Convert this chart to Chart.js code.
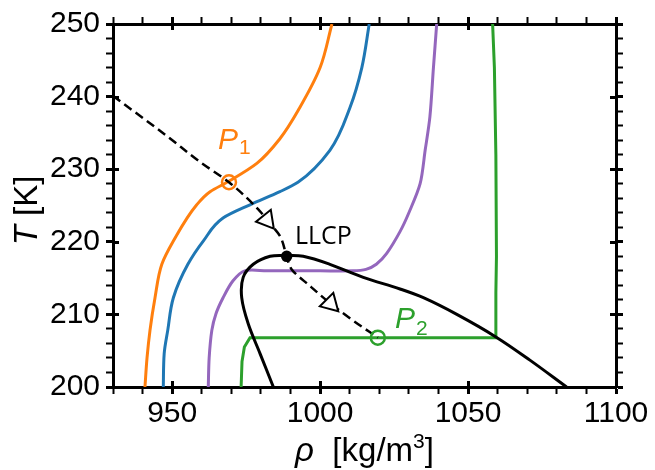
<!DOCTYPE html>
<html>
<head>
<meta charset="utf-8">
<script src="https://cdn.jsdelivr.net/npm/chart.js@4/dist/chart.umd.min.js"></script>
<style>
  html, body { margin: 0; padding: 0; background: #fff; }
  canvas { display: block; }
</style>
</head>
<body>
<canvas id="phase" width="655" height="470"></canvas>
<script>
(function(){
    // axis ranges and labelled ticks
    const rhoMin = 930, rhoMax = 1100;
    const tMin = 200, tMax = 250;
    const rhoLabels = [950, 1000, 1050, 1100];
    const tLabels = [200, 210, 220, 230, 240, 250];

    // isochores, rho in kg/m3, T in K
    const orangeRho = [940.8, 941.5, 942.5, 944.2, 946.5, 950.4, 958.3, 962.8, 969.0, 978.6, 986.4, 993.0, 1000.0, 1004.0];
    const orangeT   = [200.0, 204.0, 207.8, 212.3, 216.9, 220.1, 225.1, 226.9, 228.3, 230.8, 234.2, 238.4, 244.0, 250.0];

    const blueRho = [947.0, 947.3, 948.5, 950.4, 955.3, 960.5, 967.3, 976.3, 986.4, 992.5, 1003.3, 1010.1, 1014.1, 1016.6];
    const blueT   = [200.0, 204.6, 207.8, 212.3, 216.9, 220.1, 223.3, 225.1, 226.9, 228.2, 232.6, 238.5, 244.0, 250.0];

    const purpleRho = [962.2, 962.5, 963.4, 964.8, 967.2, 970.5, 974.5, 982.0, 1000.0, 1011.0, 1015.5, 1019.0, 1022.5, 1027.0, 1030.0, 1033.8, 1035.5, 1037.1, 1038.3, 1039.4];
    const purpleT   = [200.0, 204.0, 207.8, 210.1, 212.3, 214.6, 216.0, 216.0, 216.0, 216.0, 216.2, 216.9, 218.4, 221.4, 224.0, 228.0, 232.6, 237.2, 244.0, 250.0];

    const greenRho = [973.3, 973.6, 974.4, 976.3, 1059.4, 1059.4, 1059.6, 1059.4, 1058.9, 1058.3];
    const greenT   = [200.0, 203.5, 205.5, 206.8, 206.8, 213.0, 218.0, 232.0, 244.0, 250.0];

    // liquid-liquid coexistence line
    const binodalRho = [984.2, 979.7, 975.7, 973.5, 974.0, 977.4, 983.1, 988.7, 994.3, 1003.3, 1014.6, 1027.0, 1034.9, 1046.2, 1059.4, 1070.9, 1083.3];
    const binodalT   = [200.0, 204.6, 208.7, 212.3, 215.1, 216.9, 218.0, 218.1, 218.0, 216.9, 215.1, 213.5, 212.3, 210.0, 206.9, 203.7, 200.0];

    // dashed path P1 -> LLCP -> P2
    const pathRho = [930.0, 948.1, 959.4, 969.2, 979.7, 982.0, 986.4, 988.7, 990.4, 996.6, 1003.5, 1011.0, 1019.5];
    const pathT   = [240.1, 234.6, 231.0, 228.2, 224.2, 223.0, 220.8, 218.0, 216.2, 213.9, 211.5, 209.2, 206.8];

    const arrowRho = [982.0, 1003.5];
    const arrowT   = [223.0, 211.5];
    const arrowRot = [141, 135];

    const p1 = [969.2, 228.2];
    const p2 = [1019.5, 206.8];
    const llcp = [988.7, 218.0];

    const orange = '#ff7f0e', blue = '#1f77b4', purple = '#9467bd', green = '#2ca02c';
    const font = '"Liberation Sans", Arial, sans-serif';

    function pts(xs, ys) {
        return xs.map(function (x, i) { return { x: x, y: ys[i] }; });
    }

    function curve(xs, ys, color, order, tension) {
        return {
            data: pts(xs, ys),
            showLine: true,
            borderColor: color,
            borderWidth: 3,
            pointRadius: 0,
            order: order,
            tension: tension,
        };
    }

    // smooth along T: these curves are single valued in T
    function curveT(xs, ys, color, order) {
        const d = curve(xs, ys, color, order, 0);
        d.indexAxis = 'y';
        d.cubicInterpolationMode = 'monotone';
        return d;
    }

    function marker(p, color, r, fill, order) {
        return {
            data: pts([p[0]], [p[1]]),
            showLine: false,
            pointRadius: r,
            pointBorderWidth: 2.5,
            pointBorderColor: color,
            pointBackgroundColor: fill,
            order: order,
        };
    }

    const path = curveT(pathRho, pathT, '#000', 1);
    path.borderWidth = 2.5;
    path.borderDash = [9, 5];

    const datasets = [
        marker(p1, orange, 7, 'rgba(0,0,0,0)', 0),
        marker(p2, green, 7, 'rgba(0,0,0,0)', 0),
        marker(llcp, '#000', 4.5, '#000', 0),
        {
            data: pts(arrowRho, arrowT),
            showLine: false,
            pointStyle: 'triangle',
            pointRadius: 11,
            pointRotation: function (ctx) { return arrowRot[ctx.dataIndex]; },
            pointBorderColor: '#000',
            pointBorderWidth: 2,
            pointBackgroundColor: '#fff',
            order: 0,
        },
        path,
        curve(binodalRho, binodalT, '#000', 2, 0.35),
        curve(greenRho, greenT, green, 4, 0),
        curve(purpleRho, purpleT, purple, 4, 0.3),
        curveT(blueRho, blueT, blue, 4),
        curveT(orangeRho, orangeT, orange, 4),
    ];

    function isMajorX(v) { return rhoLabels.indexOf(v) >= 0; }
    function isMajorY(v) { return tLabels.indexOf(v) >= 0; }

    function axis(pos, min, max, step, major, size, labels) {
        const horiz = pos === 'top' || pos === 'bottom';
        return {
            type: 'linear',
            position: pos,
            min: min,
            max: max,
            afterFit: function (s) {
                if (horiz) s.height = size; else s.width = size;
            },
            border: { display: true, color: '#000', width: 3 },
            grid: {
                drawOnChartArea: false,
                drawTicks: true,
                tickLength: 7,
                tickColor: '#000',
                tickWidth: function (ctx) { return ctx.tick && major(ctx.tick.value) ? 3 : 2; },
            },
            ticks: {
                display: labels,
                stepSize: step,
                autoSkip: false,
                maxRotation: 0,
                padding: horiz ? 2 : 6,
                color: '#000',
                font: { family: font, size: 30 },
                callback: function (v) { return major(v) ? String(v) : ''; },
            },
        };
    }

    // inward half of the major ticks, axis titles and point labels
    const extras = {
        id: 'extras',
        afterDatasetsDraw: function (chart) {
            const ctx = chart.ctx;
            const sx = chart.scales.x, sy = chart.scales.y;
            ctx.save();
            ctx.textBaseline = 'alphabetic';
            ctx.textAlign = 'left';

            function sub(x0, y0, main, index, color, big, small, drop) {
                ctx.fillStyle = color;
                ctx.font = 'italic ' + big + 'px ' + font;
                ctx.fillText(main, x0, y0);
                const w = ctx.measureText(main).width;
                ctx.font = small + 'px ' + font;
                ctx.fillText(index, x0 + w + 1, y0 + drop);
            }
            sub(sx.getPixelForValue(965.5), sy.getPixelForValue(232.8), 'P', '1', orange, 30, 21, 5);
            sub(sx.getPixelForValue(1025.3), sy.getPixelForValue(208.1), 'P', '2', green, 30, 21, 7);

            ctx.fillStyle = '#000';
            ctx.font = '25px "Open Sans", ' + font;
            ctx.fillText('LLCP', sx.getPixelForValue(991.5), sy.getPixelForValue(219.7));
            ctx.restore();
        },
        afterDraw: function (chart) {
            const ctx = chart.ctx, a = chart.chartArea;
            const sx = chart.scales.x, sy = chart.scales.y;
            ctx.save();
            ctx.strokeStyle = '#000';
            ctx.lineWidth = 3;
            ctx.beginPath();
            rhoLabels.forEach(function (v) {
                const px = Math.round(sx.getPixelForValue(v)) + 0.5;
                ctx.moveTo(px, a.bottom); ctx.lineTo(px, a.bottom - 6);
                ctx.moveTo(px, a.top); ctx.lineTo(px, a.top + 6);
            });
            tLabels.forEach(function (v) {
                const py = Math.round(sy.getPixelForValue(v)) + 0.5;
                ctx.moveTo(a.left, py); ctx.lineTo(a.left + 6, py);
                ctx.moveTo(a.right, py); ctx.lineTo(a.right - 6, py);
            });
            ctx.stroke();

            // x title: rho [kg/m^3]
            ctx.fillStyle = '#000';
            ctx.textBaseline = 'alphabetic';
            ctx.textAlign = 'left';
            const fItal = 'italic 33px ' + font, fNorm = '33px ' + font, fSup = '21px ' + font;
            ctx.font = fItal; const wr = ctx.measureText('\u03c1').width;
            ctx.font = fNorm; const w1 = ctx.measureText('  [kg/m').width;
            const w3 = ctx.measureText(']').width;
            ctx.font = fSup; const w2 = ctx.measureText('3').width;
            let x0 = (a.left + a.right) / 2 - (wr + w1 + w2 + w3) / 2;
            const base = 461;
            ctx.font = fItal; ctx.fillText('\u03c1', x0, base); x0 += wr;
            ctx.font = fNorm; ctx.fillText('  [kg/m', x0, base); x0 += w1;
            ctx.font = fSup; ctx.fillText('3', x0, base - 13); x0 += w2;
            ctx.font = fNorm; ctx.fillText(']', x0, base);

            // y title: T [K]
            ctx.translate(28, (a.top + a.bottom) / 2 + 5);
            ctx.rotate(-Math.PI / 2);
            ctx.textBaseline = 'middle';
            ctx.font = fItal; const wt = ctx.measureText('T').width;
            ctx.font = fNorm; const wk = ctx.measureText(' [K]').width;
            const y0 = -(wt + wk) / 2;
            ctx.font = fItal; ctx.fillText('T', y0, 0);
            ctx.font = fNorm; ctx.fillText(' [K]', y0 + wt, 0);
            ctx.restore();
        },
    };

    new Chart(document.getElementById('phase'), {
        type: 'scatter',
        data: { datasets: datasets },
        options: {
            responsive: false,
            animation: false,
            layout: { padding: 0 },
            plugins: {
                legend: { display: false },
                tooltip: { enabled: false },
            },
            scales: {
                x: axis('bottom', rhoMin, rhoMax, 10, isMajorX, 83, true),
                x2: axis('top', rhoMin, rhoMax, 10, isMajorX, 21, false),
                y: axis('left', tMin, tMax, 2, isMajorY, 113, true),
                y2: axis('right', tMin, tMax, 2, isMajorY, 39, false),
            },
        },
        plugins: [extras],
    });
})();
</script>
</body>
</html>
